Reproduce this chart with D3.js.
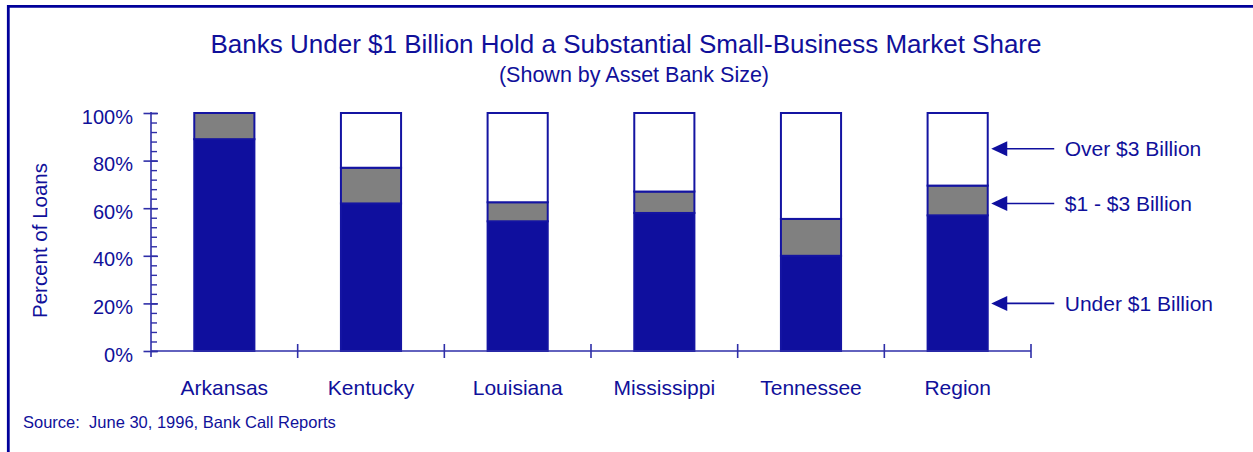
<!DOCTYPE html>
<html>
<head>
<meta charset="utf-8">
<script src="https://cdn.jsdelivr.net/npm/d3@7"></script>
<style>
  body { margin: 0; background: #fff; }
  svg { display: block; font-family: 'Liberation Sans', Arial, sans-serif; }
</style>
</head>
<body>
<div class="loans-chart"></div>
<script>
// values (percent of loans)
const categories = ['Arkansas', 'Kentucky', 'Louisiana', 'Mississippi', 'Tennessee', 'Region'];
const under1B = [89, 62, 54.5, 58, 40, 57];
const mid1to3B = [11, 15, 8, 9, 15.5, 12.5];
const over3B = [0, 23, 37.5, 33, 44.5, 30.5];
const seriesKeys = ['under', 'mid', 'over'];
const legendLabels = ['Under $1 Billion', '$1 - $3 Billion', 'Over $3 Billion'];
const yTicks = [0, 20, 40, 60, 80, 100];

const width = 1253;
const height = 452;
const margin = { left: 151, right: 222, top: 113, bottom: 101 };
const blue = '#0f0f9e';
const textBlue = '#10109a';
const axisBlue = '#2e2ea8';

const data = categories.map((c, i) => ({ name: c, under: under1B[i], mid: mid1to3B[i], over: over3B[i] }));
const stacked = d3.stack().keys(seriesKeys)(data);

const color = d3.scaleOrdinal()
  .domain(seriesKeys)
  .range([blue, '#808080', '#ffffff']);

const x = d3.scaleBand()
  .domain(categories)
  .range([margin.left, width - margin.right])
  .paddingInner(0.59)
  .paddingOuter(0.295);

const y = d3.scaleLinear()
  .domain([0, 100])
  .range([height - margin.bottom, margin.top]);

const svg = d3.select('.loans-chart')
  .append('svg')
  .attr('width', width)
  .attr('height', height);

// frame (only top and left edges show)
svg.append('path')
  .attr('d', `M8.3,${height + 5} V6.3 H${width + 5}`)
  .attr('fill', 'none')
  .attr('stroke', '#00009a')
  .attr('stroke-width', 2.8);

// titles
svg.append('text')
  .attr('x', 626)
  .attr('y', 53)
  .attr('text-anchor', 'middle')
  .attr('font-size', 26)
  .attr('fill', textBlue)
  .text('Banks Under $1 Billion Hold a Substantial Small-Business Market Share');

svg.append('text')
  .attr('x', 634)
  .attr('y', 82)
  .attr('text-anchor', 'middle')
  .attr('font-size', 21.5)
  .attr('fill', textBlue)
  .text('(Shown by Asset Bank Size)');

// bars
svg.append('g')
  .selectAll('g')
  .data(stacked)
  .join('g')
  .attr('fill', d => color(d.key))
  .selectAll('rect')
  .data(d => d)
  .join('rect')
  .attr('x', d => x(d.data.name))
  .attr('width', x.bandwidth())
  .attr('y', d => y(d[1]))
  .attr('height', d => y(d[0]) - y(d[1]))
  .attr('stroke', '#1414a2')
  .attr('stroke-width', 2);

// y axis: major ticks cross the line, minor ticks on the right
const yAxisGroup = svg.append('g')
  .attr('transform', `translate(${margin.left},0)`)
  .call(d3.axisLeft(y).tickValues(yTicks).tickSize(7.5).tickPadding(10.5).tickFormat(d => d + '%'))
  .call(g => g.select('.domain').remove());

yAxisGroup.selectAll('.tick line')
  .attr('x1', 7)
  .attr('stroke', axisBlue)
  .attr('stroke-width', 1.6);

yAxisGroup.selectAll('.tick text')
  .attr('font-size', 20)
  .attr('font-family', null)
  .attr('fill', textBlue)
  .attr('dy', '0.5em');

svg.append('g')
  .attr('transform', `translate(${margin.left},0)`)
  .call(d3.axisRight(y).tickValues(d3.range(0, 101, 4)).tickSize(6).tickFormat(''))
  .call(g => g.select('.domain').remove())
  .selectAll('.tick line')
  .attr('stroke', axisBlue)
  .attr('stroke-width', 1.4);

svg.append('line')
  .attr('x1', margin.left).attr('x2', margin.left)
  .attr('y1', y(100) - 1).attr('y2', y(0) + 6)
  .attr('stroke', axisBlue)
  .attr('stroke-width', 1.6);

// x axis line and category boundary ticks
const x0 = x.range()[0];
const bounds = d3.range(categories.length + 1).map(i => x0 + i * x.step());

svg.append('line')
  .attr('x1', x0).attr('x2', x.range()[1])
  .attr('y1', y(0)).attr('y2', y(0))
  .attr('stroke', axisBlue)
  .attr('stroke-width', 1.6);

svg.append('g')
  .selectAll('line')
  .data(bounds.slice(1))
  .join('line')
  .attr('x1', d => d).attr('x2', d => d)
  .attr('y1', y(0) - 7).attr('y2', y(0) + 7)
  .attr('stroke', axisBlue)
  .attr('stroke-width', 1.6);

svg.append('g')
  .attr('transform', `translate(0,${y(0)})`)
  .call(d3.axisBottom(x).tickSize(0).tickPadding(29))
  .call(g => g.select('.domain').remove())
  .selectAll('text')
  .attr('font-size', 21)
  .attr('font-family', null)
  .attr('fill', textBlue);

// y axis title
svg.append('text')
  .attr('transform', 'translate(46.5,240.5) rotate(-90)')
  .attr('text-anchor', 'middle')
  .attr('font-size', 20.5)
  .attr('fill', textBlue)
  .text('Percent of Loans');

// legend arrows pointing at the Region bar
const legendAt = [20, 62, 85];
const tipX = x('Region') + x.bandwidth() + 3.5;

const legend = svg.append('g')
  .selectAll('g')
  .data(legendLabels)
  .join('g')
  .attr('transform', (d, i) => `translate(${tipX},${y(legendAt[i])})`);

legend.append('line')
  .attr('x1', 12).attr('x2', 63)
  .attr('stroke', blue)
  .attr('stroke-width', 1.6);

legend.append('path')
  .attr('d', 'M0,0 L16,-7.5 L16,7.5 Z')
  .attr('fill', blue);

legend.append('text')
  .attr('x', 73.5)
  .attr('dy', '0.35em')
  .attr('font-size', 21)
  .attr('fill', textBlue)
  .text(d => d);

// source note
svg.append('text')
  .attr('x', 23)
  .attr('y', 428)
  .attr('font-size', 16.5)
  .attr('fill', textBlue)
  .style('white-space', 'pre')
  .text('Source:  June 30, 1996, Bank Call Reports');
</script>
</body>
</html>
